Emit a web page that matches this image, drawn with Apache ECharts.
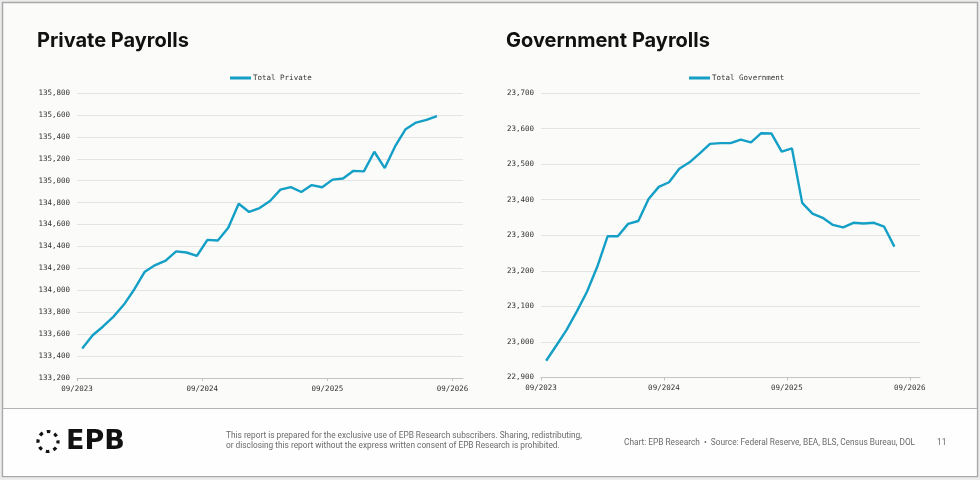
<!DOCTYPE html>
<html>
<head>
<meta charset="utf-8">
<script src="https://cdn.jsdelivr.net/npm/echarts@6/dist/echarts.min.js"></script>
<style>
  html, body { margin: 0; padding: 0; background: #ececec; }
  #chart { width: 980px; height: 480px; }
</style>
</head>
<body>
<div id="chart"></div>
<script>
// monthly observations, first one is 2023-09
var months = [
  '2023-09','2023-10','2023-11','2023-12','2024-01','2024-02','2024-03','2024-04','2024-05','2024-06','2024-07','2024-08',
  '2024-09','2024-10','2024-11','2024-12','2025-01','2025-02','2025-03','2025-04','2025-05','2025-06','2025-07','2025-08',
  '2025-09','2025-10','2025-11','2025-12','2026-01','2026-02','2026-03','2026-04','2026-05','2026-06','2026-07'
];
var totalPrivate = [
  133470, 133590, 133670, 133760, 133870, 134010, 134170, 134230, 134270, 134355, 134345, 134315,
  134460, 134455, 134570, 134790, 134715, 134750, 134815, 134918, 134942, 134897, 134960, 134940,
  135010, 135020, 135090, 135085, 135264, 135115, 135315, 135470, 135530, 135555, 135590
];
var totalGovernment = [
  22947, 22990, 23034, 23086, 23142, 23212, 23297, 23297, 23332, 23340, 23402, 23436,
  23449, 23487, 23505, 23530, 23557, 23559, 23559, 23569, 23561, 23587, 23586, 23535,
  23544, 23391, 23361, 23349, 23329, 23322, 23335, 23333, 23335, 23324, 23268
];
var tickLabels = ['09/2023', '09/2024', '09/2025', '09/2026'];

var LINE = '#149fc6';
var MONO = '"DejaVu Sans Mono", "Liberation Mono", monospace';
var SANS = 'Roboto, "Noto Sans", sans-serif';

// months since 09/2023
function monthIndex(y, m) {
  return (y - 2023) * 12 + (m - 9);
}
function pointX(s) {
  var p = s.split('-');
  return monthIndex(+p[0], +p[1]) + 0.5; // plotted mid-month
}
function tickX(s) {
  var p = s.split('/');
  return monthIndex(+p[1], +p[0]);
}
var tickValues = tickLabels.map(tickX);
function labelFor(v) {
  var i = tickValues.indexOf(v);
  return i >= 0 ? tickLabels[i] : '';
}
function pairs(values) {
  return values.map(function (v, i) { return [pointX(months[i]), v]; });
}

function xAxis(gridIndex) {
  return {
    type: 'value',
    gridIndex: gridIndex,
    min: 0,
    max: 37,
    splitLine: { show: false },
    axisLine: { lineStyle: { color: '#c4c4c4', width: 1 } },
    axisTick: { customValues: tickValues, length: 3, lineStyle: { color: '#c4c4c4' } },
    axisLabel: {
      customValues: tickValues,
      formatter: labelFor,
      margin: 7,
      color: '#333',
      fontFamily: MONO,
      fontSize: 7.5
    }
  };
}
function yAxis(gridIndex, min, max, interval) {
  return {
    type: 'value',
    gridIndex: gridIndex,
    min: min,
    max: max,
    interval: interval,
    axisLine: { show: false },
    axisTick: { show: false },
    splitLine: { lineStyle: { color: '#e4e4e2', width: 1 } },
    axisLabel: { margin: 7, color: '#333', fontFamily: MONO, fontSize: 7.5 }
  };
}

var myChart = echarts.init(document.getElementById('chart'), null, { renderer: 'canvas' });
var option = {
  backgroundColor: '#ececec',
  animation: false,
  title: [
    { text: 'Private Payrolls', left: 32, top: 26,
      textStyle: { fontFamily: 'Inter, Roboto, sans-serif', fontWeight: 700, fontSize: 20, color: '#111' } },
    { text: 'Government Payrolls', left: 501, top: 26,
      textStyle: { fontFamily: 'Inter, Roboto, sans-serif', fontWeight: 700, fontSize: 20, color: '#111' } }
  ],
  legend: [
    { data: ['Total Private'], left: 230, top: 74, padding: 0, icon: 'rect', itemWidth: 21, itemHeight: 3,
      textStyle: { fontFamily: MONO, fontSize: 7.5, color: '#333', padding: [0, 0, 0, -3] } },
    { data: ['Total Government'], left: 689, top: 74, padding: 0, icon: 'rect', itemWidth: 21, itemHeight: 3,
      textStyle: { fontFamily: MONO, fontSize: 7.5, color: '#333', padding: [0, 0, 0, -3] } }
  ],
  grid: [
    { left: 77, top: 93, width: 386, height: 285 },
    { left: 541, top: 93, width: 379, height: 284.5 }
  ],
  xAxis: [xAxis(0), xAxis(1)],
  yAxis: [yAxis(0, 133200, 135800, 200), yAxis(1, 22900, 23700, 100)],
  series: [
    { name: 'Total Private', type: 'line', xAxisIndex: 0, yAxisIndex: 0, data: pairs(totalPrivate),
      showSymbol: false, color: LINE, lineStyle: { width: 2.4, color: LINE } },
    { name: 'Total Government', type: 'line', xAxisIndex: 1, yAxisIndex: 1, data: pairs(totalGovernment),
      showSymbol: false, color: LINE, lineStyle: { width: 2.4, color: LINE } }
  ],
  graphic: [
    // page card and footer divider
    { type: 'rect', z: -10, silent: true, shape: { x: 2.5, y: 2.5, width: 975, height: 474 },
      style: { fill: '#fbfbf9', stroke: '#a9a9a9', lineWidth: 1.5 } },
    { type: 'rect', z: -9, silent: true, shape: { x: 3.5, y: 408.5, width: 973, height: 67.5 },
      style: { fill: '#fefefe' } },
    { type: 'line', z: -8, silent: true, shape: { x1: 3, y1: 408.5, x2: 977, y2: 408.5 },
      style: { stroke: '#b4b4b4', lineWidth: 1.2 } },
    // logo
    { type: 'circle', silent: true, shape: { cx: 48, cy: 441.5, r: 10 },
      style: { fill: 'none', stroke: '#111', lineWidth: 3.2, lineDash: [3.6, 4.25], lineDashOffset: 1.5 } },
    { type: 'text', silent: true, x: 66, y: 442,
      style: { text: 'EPB', fill: '#111', font: 'bold 27px "DejaVu Sans", sans-serif',
        textVerticalAlign: 'middle' } },
    // footer notes
    { type: 'text', silent: true, x: 226, y: 436,
      style: { text: 'This report is prepared for the exclusive use of EPB Research subscribers. Sharing, redistributing,',
        fill: '#6a6a6a', font: '8.3px ' + SANS, textVerticalAlign: 'middle' } },
    { type: 'text', silent: true, x: 226, y: 446,
      style: { text: 'or disclosing this report without the express written consent of EPB Research is prohibited.',
        fill: '#6a6a6a', font: '8.3px ' + SANS, textVerticalAlign: 'middle' } },
    { type: 'text', silent: true, x: 624, y: 442.5,
      style: { text: 'Chart: EPB Research  \u2022  Source: Federal Reserve, BEA, BLS, Census Bureau, DOL',
        fill: '#6a6a6a', font: '8.3px ' + SANS, textVerticalAlign: 'middle' } },
    { type: 'text', silent: true, x: 937, y: 442.5,
      style: { text: '11', fill: '#6a6a6a', font: '8.3px ' + SANS, textVerticalAlign: 'middle' } }
  ]
};
myChart.setOption(option);
</script>
</body>
</html>
